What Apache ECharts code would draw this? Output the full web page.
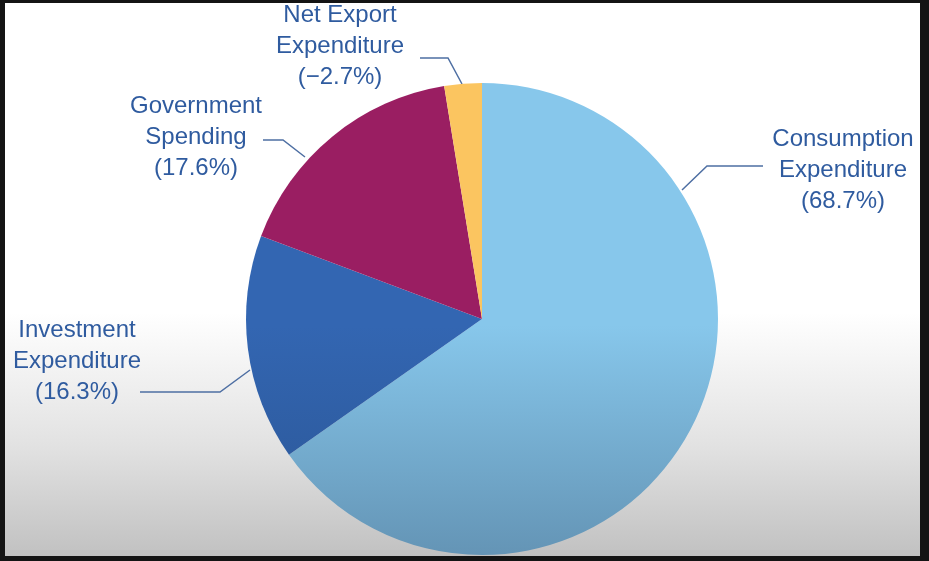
<!DOCTYPE html>
<html>
<head>
<meta charset="utf-8">
<script src="https://cdn.jsdelivr.net/npm/echarts@6/dist/echarts.min.js"></script>
<style>
html,body{margin:0;padding:0;background:#141414;}
#chart{width:929px;height:561px;background:#141414;}
</style>
</head>
<body>
<div id="chart"></div>
<script>
// ---- data ----
const categories = ['Consumption\nExpenditure', 'Investment\nExpenditure', 'Government\nSpending', 'Net Export\nExpenditure'];
const shares = [68.7, 16.3, 17.6, -2.7]; // percent of GDP (net exports negative)
const topColors = ['#87C7EB', '#3366B2', '#9A1E62', '#FBC560'];
const bottomColors = ['#6393B4', '#2A5594', '#7E1A50', '#D9A852'];

// ---- layout (label positions / leader lines) ----
const labelLayouts = [
  {x: 843, y: 170, line: [[682, 190], [707, 166], [763, 166]]},
  {x: 77, y: 361, line: [[250, 370], [220, 392], [140, 392]]},
  {x: 196, y: 137, line: [[305, 157], [283, 140], [263, 140]]},
  {x: 340, y: 46, line: [[462, 84], [448, 58], [420, 58]]}
];

function fmt(v) {
  const s = Math.abs(v).toFixed(1);
  return (v < 0 ? '\u2212' : '') + s;
}

const seriesData = categories.map((c, i) => ({
  name: c,
  value: Math.abs(shares[i]),
  share: shares[i],
  itemStyle: {
    color: new echarts.graphic.LinearGradient(0, 0, 0, 561, [
      {offset: 0, color: topColors[i]},
      {offset: 0.58, color: topColors[i]},
      {offset: 1, color: bottomColors[i]}
    ], true)
  }
}));

const chart = echarts.init(document.getElementById('chart'), null, {renderer: 'canvas'});
chart.setOption({
  animation: false,
  backgroundColor: 'transparent',
  graphic: [{
    type: 'rect',
    z: -10,
    silent: true,
    shape: {x: 5, y: 3, width: 915, height: 553},
    style: {
      fill: new echarts.graphic.LinearGradient(0, 0, 0, 1, [
        {offset: 0, color: '#ffffff'},
        {offset: 0.56, color: '#ffffff'},
        {offset: 0.8, color: '#e2e2e2'},
        {offset: 1, color: '#c1c1c1'}
      ])
    }
  }],
  series: [{
    type: 'pie',
    center: [482, 319],
    radius: [0, 236],
    startAngle: 90,
    clockwise: true,
    avoidLabelOverlap: false,
    silent: true,
    emphasis: {disabled: true},
    itemStyle: {borderWidth: 0},
    label: {
      show: true,
      position: 'outside',
      fontFamily: 'Liberation Sans, Arial, sans-serif',
      fontSize: 24,
      lineHeight: 31,
      color: '#2F5B9F',
      align: 'center',
      formatter: p => p.name + '\n(' + fmt(p.data.share) + '%)'
    },
    labelLine: {
      show: true,
      smooth: false,
      lineStyle: {color: '#4E6FA3', width: 1.5}
    },
    labelLayout: function (params) {
      const L = labelLayouts[params.dataIndex];
      return {
        x: L.x,
        y: L.y,
        align: 'center',
        verticalAlign: 'middle',
        labelLinePoints: L.line
      };
    },
    data: seriesData
  }]
});
</script>
</body>
</html>
